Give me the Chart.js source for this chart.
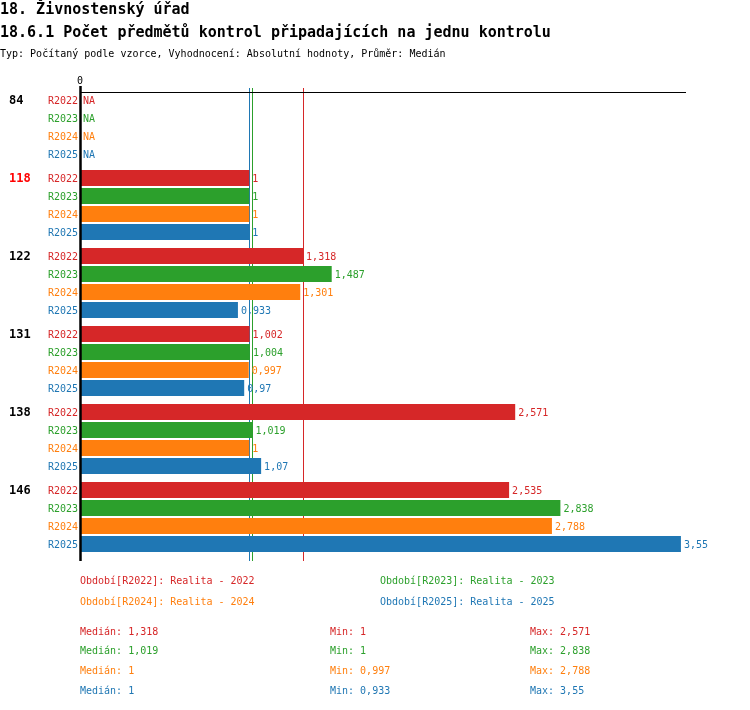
<!DOCTYPE html>
<html>
<head>
<meta charset="utf-8">
<script src="https://cdn.jsdelivr.net/npm/chart.js@4/dist/chart.umd.min.js"></script>
<style>
  body { margin:0; background:#fff; font-family:"DejaVu Sans Mono", monospace; }
  #wrap { position:relative; width:750px; height:710px; }
  canvas { position:absolute; left:0; top:0; }
  .t { position:absolute; white-space:pre; font-size:10px; line-height:12px; }
  .h { font-weight:bold; font-size:15px; line-height:18px; }
</style>
</head>
<body>
<div id="wrap">
  <canvas id="myChart" width="750" height="710"></canvas>
  <div class="t h" style="left:0px;top:0px">18. Živnostenský úřad</div>
  <div class="t h" style="left:0px;top:23px">18.6.1 Počet předmětů kontrol připadajících na jednu kontrolu</div>
  <div class="t" style="left:0px;top:48px">Typ: Počítaný podle vzorce, Vyhodnocení: Absolutní hodnoty, Průměr: Medián</div>
  <div id="legend"></div>
</div>
<script>
// D O N N E E S - - - - - - - - - - - - - - - - - - - - - - - - - -
let groups= ["84","118","122","131","138","146"];                 //les kontroly (axe Y)
let periods= ["R2022","R2023","R2024","R2025"];
let periodNames= ["Realita - 2022","Realita - 2023","Realita - 2024","Realita - 2025"];
let r2022= [null, 1, 1.318, 1.002, 2.571, 2.535];
let r2023= [null, 1, 1.487, 1.004, 1.019, 2.838];
let r2024= [null, 1, 1.301, 0.997, 1,     2.788];
let r2025= [null, 1, 0.933, 0.97,  1.07,  3.55];
let tableColor= ["#d62728","#2ca02c","#ff7f0e","#1f77b4"];
let highlight= "118";                                             //le groupe en rouge

let series= [r2022, r2023, r2024, r2025];

function fmt(v){ return String(v).replace(".", ","); }
function stats(arr){
    let vals= arr.filter(function(v){ return v!==null; }).sort(function(a,b){ return a-b; });
    let m= vals.length%2 ? vals[(vals.length-1)/2] : (vals[vals.length/2-1]+vals[vals.length/2])/2;
    return { med:m, min:vals[0], max:vals[vals.length-1] };
}
let statList= series.map(stats);

// L E G E N D E   E T   S T A T S - - - - - - - - - - - - - - - - -
let legend= document.getElementById("legend");
function addText(txt, x, yc, color){
    let d= document.createElement("div");
    d.className= "t";
    d.style.left= x+"px";
    d.style.top= (yc-6)+"px";
    d.style.color= color;
    d.textContent= txt;
    legend.appendChild(d);
}
periods.forEach(function(p, i){
    addText("Období["+p+"]: "+periodNames[i], i%2 ? 380 : 80, i<2 ? 581 : 602, tableColor[i]);
});
let statY= [632, 651, 671, 691];
statList.forEach(function(s, i){
    addText("Medián: "+fmt(s.med), 80, statY[i], tableColor[i]);
    addText("Min: "+fmt(s.min), 330, statY[i], tableColor[i]);
    addText("Max: "+fmt(s.max), 530, statY[i], tableColor[i]);
});

// P L U G I N   ( lignes, axes, etiquettes ) - - - - - - - - - - - -
let catPct= 72/78;
let decor= {
    id: "decor",
    beforeDatasetsDraw: function(chart){
        let ctx= chart.ctx, xs= chart.scales.x;
        ctx.save();
        ctx.lineWidth= 1;
        statList.forEach(function(s, i){                            //lignes des medians
            let x= Math.round(xs.getPixelForValue(s.med))+0.5;
            ctx.strokeStyle= tableColor[i];
            ctx.beginPath(); ctx.moveTo(x, 88); ctx.lineTo(x, 561); ctx.stroke();
        });
        ctx.restore();
    },
    afterDatasetsDraw: function(chart){
        let ctx= chart.ctx, xs= chart.scales.x, ys= chart.scales.y;
        let x0= xs.getPixelForValue(0);
        ctx.save();
        // axe du haut
        ctx.strokeStyle= "#000";
        ctx.lineWidth= 1;
        ctx.beginPath(); ctx.moveTo(x0, 92.5); ctx.lineTo(xs.right, 92.5); ctx.stroke();
        // axe de gauche
        ctx.lineWidth= 2.5;
        ctx.beginPath(); ctx.moveTo(x0+0.5, 86); ctx.lineTo(x0+0.5, 561); ctx.stroke();
        ctx.font= "10px 'DejaVu Sans Mono'";
        ctx.fillStyle= "#000";
        ctx.textAlign= "center"; ctx.textBaseline= "middle";
        ctx.fillText("0", x0, 81);

        let chunk= (ys.getPixelForValue(1)-ys.getPixelForValue(0))*catPct/4;
        groups.forEach(function(g, gi){
            let yc= ys.getPixelForValue(gi);
            ctx.font= "bold 12px 'DejaVu Sans Mono'";
            ctx.textAlign= "left";
            ctx.fillStyle= g===highlight ? "#ff0000" : "#000";
            ctx.fillText(g, 9, yc-1.5*chunk+1);
            series.forEach(function(arr, si){
                let y= yc+(si-1.5)*chunk+1;
                ctx.font= "10px 'DejaVu Sans Mono'";
                ctx.fillStyle= tableColor[si];
                ctx.textAlign= "right";
                ctx.fillText(periods[si], 78, y);
                ctx.textAlign= "left";
                let v= arr[gi];
                let txt= v===null ? "NA" : fmt(v);
                let x= v===null ? x0 : xs.getPixelForValue(v);
                ctx.fillText(txt, x+3, y);
            });
        });
        ctx.restore();
    }
};

// G R A P H I Q U E - - - - - - - - - - - - - - - - - - - - - - - -
let dataSets= [];
series.forEach(function(arr, i){
    dataSets.push({
        label: periods[i],
        data: arr,
        backgroundColor: tableColor[i],
        borderWidth: 0,
        categoryPercentage: catPct,
        barPercentage: 16/18
    });
});

new Chart(document.getElementById("myChart"), {
    type: "bar",
    data: { labels: groups, datasets: dataSets },
    options: {
        indexAxis: "y",
        responsive: false,
        animation: false,
        events: [],
        layout: { padding: { left: 80, top: 88, right: 64, bottom: 154 } },
        scales: {
            x: { type: "linear", min: 0, max: 3.58, display: false },
            y: { type: "category", display: false }
        },
        plugins: { legend: { display: false }, tooltip: { enabled: false } }
    },
    plugins: [decor]
});
</script>
</body>
</html>
